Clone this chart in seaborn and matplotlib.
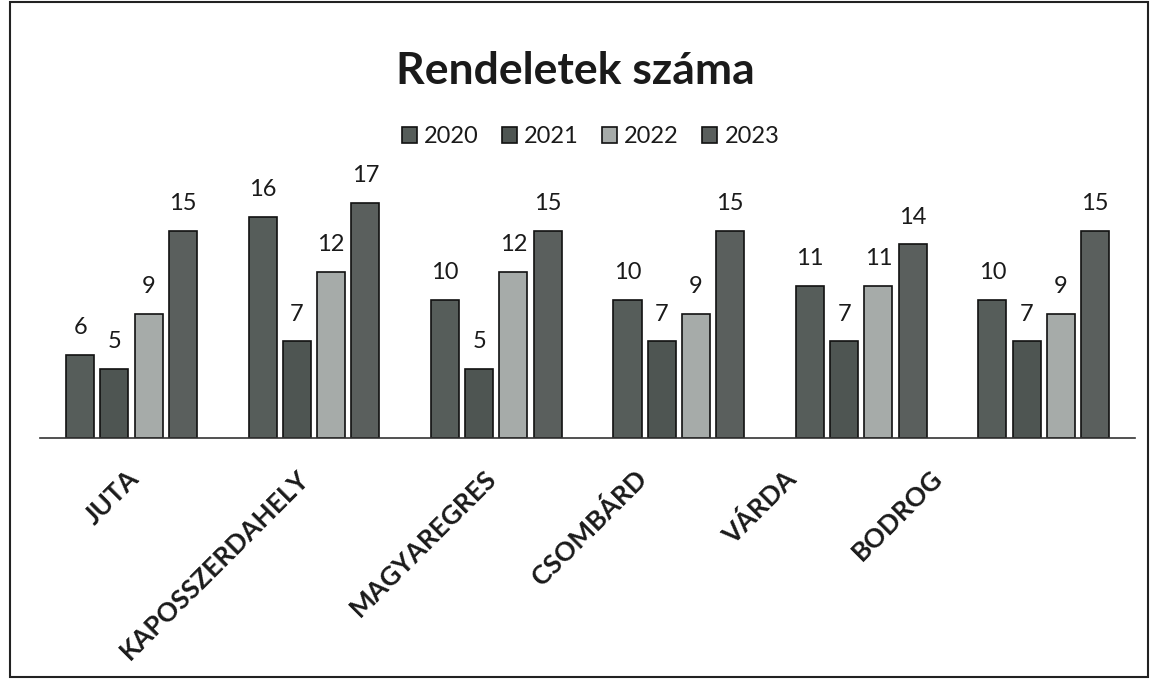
import pandas as pd
import matplotlib.pyplot as plt
import matplotlib.transforms as mtransforms
import seaborn as sns
from matplotlib.patches import Rectangle

# ── Data ──────────────────────────────────────────────────────────────────────
telepulesek = ['JUTA', 'KAPOSSZERDAHELY', 'MAGYAREGRES', 'CSOMBÁRD', 'VÁRDA', 'BODROG']
evek = ['2020', '2021', '2022', '2023']
v2020 = [6, 16, 10, 10, 11, 10]
v2021 = [5, 7, 5, 7, 7, 7]
v2022 = [9, 12, 12, 9, 11, 9]
v2023 = [15, 17, 15, 15, 14, 15]

df = pd.DataFrame({'telepules': telepulesek, '2020': v2020, '2021': v2021,
                   '2022': v2022, '2023': v2023})
long = df.melt(id_vars='telepules', var_name='ev', value_name='db')

# ── Plot ──────────────────────────────────────────────────────────────────────
sns.set_theme(style='white')
plt.rcParams['font.family'] = ['Lato', 'DejaVu Sans']
TXT = '#1a1a1a'
palette = {'2020': '#565d5a', '2021': '#4e5552', '2022': '#a6aba9', '2023': '#5a5f5d'}

fig = plt.figure(figsize=(11.51, 6.8), dpi=100)
ax = fig.add_axes([0.035, 0.356, 0.951, 0.38])

sns.barplot(data=long, x='telepules', y='db', hue='ev', hue_order=evek,
            order=telepulesek, palette=palette, width=0.75, gap=0.18,
            edgecolor='#111111', linewidth=1.2, saturation=1, ax=ax)

for c in ax.containers:
    ax.bar_label(c, padding=12, fontsize=17, color=TXT)

ax.set_xlim(-0.5, 5.5)
ax.set_ylim(0, 18.7)
ax.set_xlabel('')
ax.set_ylabel('')
ax.set_yticks([])
for s in ['left', 'right', 'top']:
    ax.spines[s].set_visible(False)
ax.spines['bottom'].set_color('#333333')
ax.spines['bottom'].set_linewidth(1.2)
ax.tick_params(axis='x', length=0, pad=20)
ax.set_xticks(range(len(telepulesek)))
ax.set_xticklabels(telepulesek, rotation=45, ha='right', rotation_mode='anchor',
                   fontsize=19, fontweight='bold', color=TXT)
# Excel nudges the shorter rotated labels leftwards
shift_px = [-5, -17, -12, -45, -78, -114]
for lbl, dx in zip(ax.get_xticklabels(), shift_px):
    lbl.set_transform(lbl.get_transform() + mtransforms.Affine2D().translate(dx, 0))

leg = ax.legend(loc='upper center', ncol=4, frameon=False, fontsize=17,
                handlelength=0.63, handleheight=0.63, handletextpad=0.3,
                columnspacing=1.0, borderaxespad=0)
leg.set_bbox_to_anchor((0.513, 0.828), transform=fig.transFigure)
for t in leg.get_texts():
    t.set_color(TXT)

fig.text(0.5, 0.895, 'Rendeletek száma', ha='center', va='center',
         fontsize=32, fontweight='bold', color=TXT)

fig.patches.append(Rectangle((0.009, 0.004), 0.988, 0.993, transform=fig.transFigure,
                             fill=False, edgecolor='#222222', linewidth=1.5))

plt.savefig('out.png', dpi=100)
